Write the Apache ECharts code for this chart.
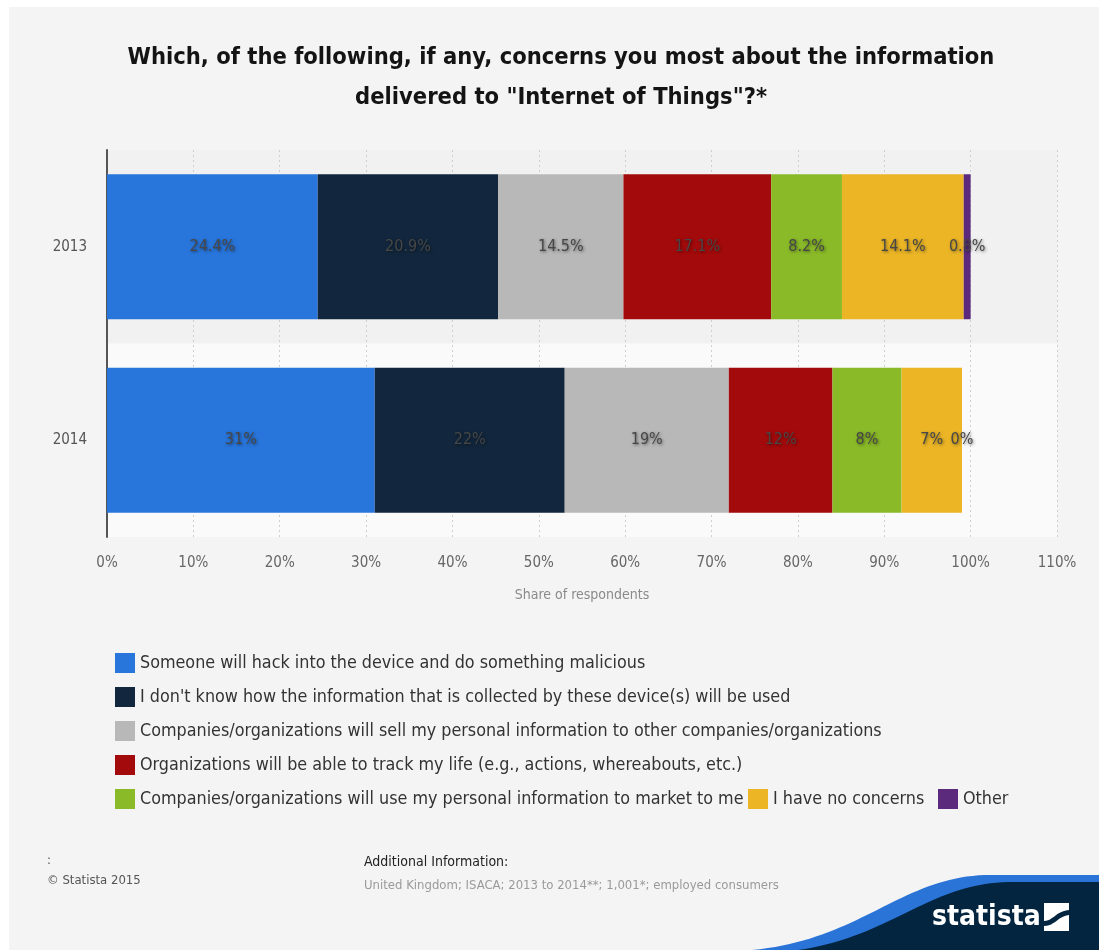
<!DOCTYPE html>
<html>
<head>
<meta charset="utf-8">
<title>Internet of Things concerns</title>
<script src="https://cdn.jsdelivr.net/npm/echarts@6/dist/echarts.min.js"></script>
<style>
  html, body { margin: 0; padding: 0; background: #ffffff; }
  #chart { width: 1099px; height: 950px; }
</style>
</head>
<body>
<div id="chart"></div>
<script>
// Survey years shown as the two stacked bars
const years = ['2013', '2014'];

// Answer options (legend order) and their colours
const answerNames = [
  'Someone will hack into the device and do something malicious',
  "I don't know how the information that is collected by these device(s) will be used",
  'Companies/organizations will sell my personal information to other companies/organizations',
  'Organizations will be able to track my life (e.g., actions, whereabouts, etc.)',
  'Companies/organizations will use my personal information to market to me',
  'I have no concerns',
  'Other'
];
const answerColors = ['#2876dc', '#12273d', '#b8b8b8', '#a30a0b', '#8aba28', '#ebb526', '#5b2a7c'];

// Share of respondents per answer, [2013, 2014]
const hackValues = [24.4, 31];
const unknownUseValues = [20.9, 22];
const sellValues = [14.5, 19];
const trackValues = [17.1, 12];
const marketValues = [8.2, 8];
const noConcernValues = [14.1, 7];
const otherValues = [0.8, 0];
const seriesValues = [hackValues, unknownUseValues, sellValues, trackValues, marketValues, noConcernValues, otherValues];

// X axis ticks
const tickStep = 10;
const axisMax = 110;

const FONT = '"DejaVu Sans Condensed", "DejaVu Sans", sans-serif';

// Sample a cubic Bezier into polygon points (used for the corner swoosh)
function bezierPoints(p0, p1, p2, p3, steps) {
  const pts = [];
  for (let i = 0; i <= steps; i++) {
    const t = i / steps, u = 1 - t;
    pts.push([
      u * u * u * p0[0] + 3 * u * u * t * p1[0] + 3 * u * t * t * p2[0] + t * t * t * p3[0],
      u * u * u * p0[1] + 3 * u * u * t * p1[1] + 3 * u * t * t * p2[1] + t * t * t * p3[1]
    ]);
  }
  return pts;
}
function swoosh(p0, p1, p2, p3, right, bottom) {
  const pts = bezierPoints(p0, p1, p2, p3, 40);
  pts.push([right, p3[1]], [right, bottom]);
  return pts;
}

const chart = echarts.init(document.getElementById('chart'), null, { renderer: 'canvas' });

const series = answerNames.map((name, i) => ({
  name: name,
  type: 'bar',
  stack: 'total',
  barWidth: '75%',
  data: seriesValues[i],
  itemStyle: { color: answerColors[i] },
  label: {
    show: true,
    position: 'inside',
    formatter: p => p.value + '%',
    fontFamily: FONT,
    fontSize: 16,
    color: '#474747',
    textBorderWidth: 0,
    textShadowColor: 'rgba(0,0,0,0.5)',
    textShadowBlur: 3,
    textShadowOffsetX: 1,
    textShadowOffsetY: 1
  },
  emphasis: { disabled: true }
}));

const legendText = { fontFamily: FONT, fontSize: 17.8, color: '#333333' };

chart.setOption({
  backgroundColor: '#ffffff',
  animation: false,
  color: answerColors,
  title: {
    text: 'Which, of the following, if any, concerns you most about the information\ndelivered to "Internet of Things"?*',
    left: 556,
    top: 33,
    textAlign: 'center',
    textStyle: {
      fontFamily: FONT,
      fontSize: 23.5,
      fontWeight: 'bold',
      color: '#141414',
      lineHeight: 40
    }
  },
  grid: { left: 107, right: 42, top: 150, bottom: 413, containLabel: false },
  xAxis: {
    type: 'value',
    min: 0,
    max: axisMax,
    interval: tickStep,
    name: 'Share of respondents',
    nameLocation: 'middle',
    nameGap: 51,
    nameTextStyle: { fontFamily: FONT, fontSize: 14, color: '#8a8a8a' },
    axisLine: { show: false },
    axisTick: { show: false },
    axisLabel: {
      formatter: v => v + '%',
      fontFamily: FONT,
      fontSize: 15,
      color: '#666666',
      margin: 19
    },
    splitLine: { show: true, lineStyle: { color: '#cfcfcf', type: [2, 3], width: 1 } }
  },
  yAxis: {
    type: 'category',
    data: years,
    inverse: true,
    axisLine: { show: true, lineStyle: { color: '#555555', width: 2 } },
    axisTick: { show: false },
    axisLabel: { fontFamily: FONT, fontSize: 15, color: '#555555', margin: 20 },
    splitArea: { show: true, areaStyle: { color: ['#f1f1f1', '#fafafa'] } }
  },
  legend: [
    {
      data: answerNames.slice(0, 5),
      orient: 'vertical',
      left: 115,
      top: 653,
      padding: 0,
      itemWidth: 20,
      itemHeight: 20,
      itemGap: 14,
      icon: 'rect',
      selectedMode: false,
      textStyle: legendText,
      z: 4
    },
    {
      data: [answerNames[5]],
      left: 748,
      top: 789,
      padding: 0,
      itemWidth: 20,
      itemHeight: 20,
      icon: 'rect',
      selectedMode: false,
      backgroundColor: '#f4f4f4',
      textStyle: legendText,
      z: 6
    },
    {
      data: [answerNames[6]],
      left: 938,
      top: 789,
      padding: 0,
      itemWidth: 20,
      itemHeight: 20,
      icon: 'rect',
      selectedMode: false,
      backgroundColor: '#f4f4f4',
      textStyle: legendText,
      z: 7
    }
  ],
  graphic: [
    // grey card behind the chart
    { type: 'rect', z: -10, silent: true, shape: { x: 9, y: 7, width: 1090, height: 943 }, style: { fill: '#f4f4f4' } },
    // source block
    { type: 'text', x: 47, y: 854, style: { text: ':', font: '13px ' + FONT, fill: '#555555' } },
    { type: 'text', x: 47, y: 874, style: { text: '\u00a9 Statista 2015', font: '13px ' + FONT, fill: '#555555' } },
    { type: 'text', x: 364, y: 855, style: { text: 'Additional Information:', font: '14px ' + FONT, fill: '#222222' } },
    { type: 'text', x: 364, y: 879, style: { text: 'United Kingdom; ISACA; 2013 to 2014**; 1,001*; employed consumers', font: '13px ' + FONT, fill: '#9a9a9a' } },
    // brand swoosh in the bottom-right corner
    { type: 'polygon', silent: true, shape: { points: swoosh([752, 950], [860, 940], [900, 878], [985, 875], 1099, 950) }, style: { fill: '#2a74d8' } },
    { type: 'polygon', silent: true, shape: { points: swoosh([798, 950], [893, 936], [928, 884], [1008, 882], 1099, 950) }, style: { fill: '#03253f' } },
    { type: 'text', x: 932, y: 918, style: { text: 'statista', font: 'bold 28px ' + FONT, fill: '#ffffff', textVerticalAlign: 'middle' } },
    { type: 'rect', silent: true, shape: { x: 1044, y: 903, width: 25, height: 28 }, style: { fill: '#ffffff' } },
    { type: 'polygon', silent: true, shape: { points: bezierPoints([1044, 921], [1053, 921], [1056, 911], [1069, 910], 12).concat(bezierPoints([1069, 915], [1058, 916], [1055, 926], [1044, 926], 12)) }, style: { fill: '#03253f' } }
  ],
  series: series
});
</script>
</body>
</html>
